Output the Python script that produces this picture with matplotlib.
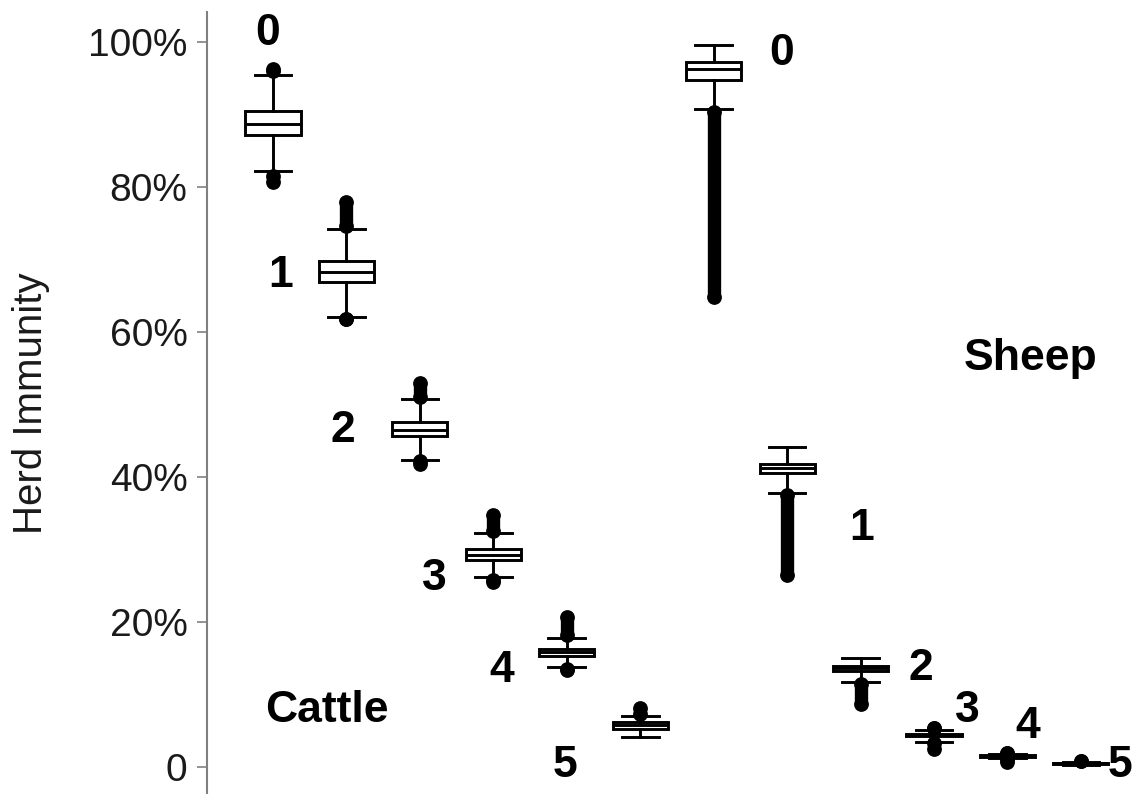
import matplotlib
matplotlib.use('Agg')
import matplotlib.pyplot as plt

plt.rcParams['font.family'] = ['Liberation Sans', 'DejaVu Sans']

# summary stats (herd immunity, %)
groups = ['0', '1', '2', '3', '4', '5']

cattle_med = [88.6, 68.2, 46.5, 29.2, 15.8, 5.7]
cattle_q1 = [87.2, 66.8, 45.6, 28.5, 15.3, 5.2]
cattle_q3 = [90.5, 69.7, 47.5, 30.0, 16.3, 6.2]
cattle_lo = [82.1, 62.0, 42.3, 26.1, 13.7, 4.1]
cattle_hi = [95.4, 74.2, 50.7, 32.2, 17.8, 7.0]
# outliers appear as dense runs of dots: (lowest, highest) of each run
cattle_out_up = [(95.9, 96.3), (74.6, 77.9), (51.0, 52.9), (32.5, 34.7), (18.1, 20.7), (7.3, 8.1)]
cattle_out_dn = [(80.7, 81.5), (61.7, 61.7), (41.8, 42.1), (25.5, 25.8), (13.3, 13.5), None]

sheep_med = [96.2, 41.2, 13.6, 4.4, 1.48, 0.47]
sheep_q1 = [94.7, 40.5, 13.2, 4.2, 1.35, 0.4]
sheep_q3 = [97.2, 41.8, 13.9, 4.55, 1.6, 0.55]
sheep_lo = [90.7, 37.8, 11.7, 3.45, 1.15, 0.25]
sheep_hi = [99.5, 44.1, 14.95, 5.1, 1.8, 0.7]
sheep_out_up = [None, None, None, (5.3, 5.4), (1.9, 1.9), (0.75, 0.8)]
sheep_out_dn = [(64.8, 90.3), (26.4, 37.5), (8.7, 11.4), (2.5, 3.3), (0.7, 0.9), None]

yticks = [0, 20, 40, 60, 80, 100]
ytick_labels = ['0', '20%', '40%', '60%', '80%', '100%']

fig = plt.figure(figsize=(11.32, 7.94), dpi=100)
ax = fig.add_axes([207 / 1132, 0.0, 925 / 1132, 782 / 794])

stats = []
out_up = cattle_out_up + sheep_out_up
out_dn = cattle_out_dn + sheep_out_dn
for med, q1, q3, lo, hi in zip(cattle_med + sheep_med, cattle_q1 + sheep_q1,
                               cattle_q3 + sheep_q3, cattle_lo + sheep_lo,
                               cattle_hi + sheep_hi):
    stats.append({'med': med, 'q1': q1, 'q3': q3, 'whislo': lo, 'whishi': hi, 'fliers': []})
positions = list(range(len(stats)))

lw = 2.1
ax.bxp(stats, positions=positions, widths=0.75, capwidths=0.5,
       showfliers=False, patch_artist=True,
       boxprops=dict(facecolor='white', edgecolor='black', linewidth=lw),
       whiskerprops=dict(color='black', linewidth=lw),
       capprops=dict(color='black', linewidth=lw),
       medianprops=dict(color='black', linewidth=lw),
       zorder=3)

# outlier runs, drawn under the boxes
for x, up, dn in zip(positions, out_up, out_dn):
    for run in (up, dn):
        if run is None:
            continue
        ax.plot([x, x], list(run), color='black', lw=9.6,
                solid_capstyle='round', marker='o', markersize=9.6, zorder=2)

# group labels
lab_kw = dict(fontsize=32, fontweight='bold', ha='center', va='baseline', color='black')
cattle_lab_x = [-0.07, 0.10, 0.95, 2.19, 3.12, 3.98]
cattle_lab_y = [99.5, 66.2, 44.8, 24.4, 11.7, -1.4]
sheep_lab_x = [6.92, 8.02, 8.82, 9.46, 10.27, 11.53]
sheep_lab_y = [96.8, 31.3, 12.0, 6.2, 4.0, -1.4]
for g, x, y in zip(groups, cattle_lab_x, cattle_lab_y):
    ax.text(x, y, g, **lab_kw)
for g, x, y in zip(groups, sheep_lab_x, sheep_lab_y):
    ax.text(x, y, g, **lab_kw)
ax.text(0.74, 6.2, 'Cattle', **lab_kw)
ax.text(10.31, 54.7, 'Sheep', **lab_kw)

ax.set_xlim(-0.899, 11.696)
ax.set_ylim(-3.77, 104.1)

for side in ['top', 'right', 'bottom']:
    ax.spines[side].set_visible(False)
ax.spines['left'].set_color('#808080')
ax.spines['left'].set_linewidth(1.5)

ax.set_xticks([])
ax.set_yticks(yticks)
ax.set_yticklabels(ytick_labels)
ax.tick_params(axis='y', direction='out', length=7, width=1.2, color='#808080',
               labelsize=28, labelcolor='#1a1a1a', pad=7)

ax.set_ylabel('Herd Immunity', fontsize=29, color='#1a1a1a', va='center')
ax.yaxis.set_label_coords(-0.19, 0.5)

fig.savefig('out.png', dpi=100)
